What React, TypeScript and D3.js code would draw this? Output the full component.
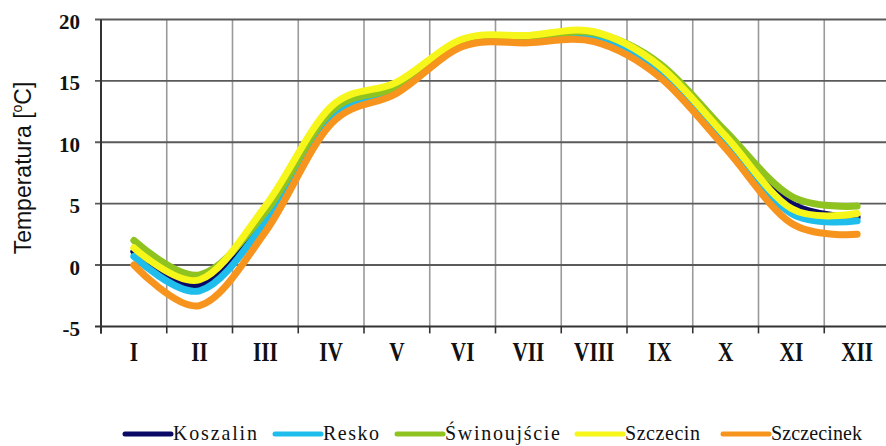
import React from 'react';
import * as d3 from 'd3';

const months = ['I', 'II', 'III', 'IV', 'V', 'VI', 'VII', 'VIII', 'IX', 'X', 'XI', 'XII'];
const koszalin = [1.1, -1.7, 3.6, 12.2, 14.3, 18.0, 18.4, 18.6, 15.9, 10.4, 5.0, 3.9];
const resko = [0.7, -2.1, 3.5, 12.1, 14.2, 18.0, 18.3, 18.5, 15.7, 10.0, 4.2, 3.6];
const swinoujscie = [2.0, -0.8, 4.3, 12.5, 14.5, 18.1, 18.5, 18.9, 16.4, 10.9, 5.6, 4.8];
const szczecin = [1.4, -1.2, 4.8, 12.9, 14.9, 18.4, 18.7, 19.0, 16.2, 10.5, 4.6, 4.2];
const szczecinek = [0.0, -3.3, 2.7, 11.5, 14.0, 17.8, 18.1, 18.2, 15.3, 9.5, 3.4, 2.5];
const seriesNames = ['Koszalin', 'Resko', 'Świnoujście', 'Szczecin', 'Szczecinek'];
const seriesValues = [koszalin, resko, swinoujscie, szczecin, szczecinek];
const seriesColors = ['#0a0a66', '#1ebdec', '#8fc31f', '#f6f61a', '#f7941d'];
const yTicks = [-5, 0, 5, 10, 15, 20];

const W = 886;
const H = 446;
const left = 101;
const step = 65.75;
const legendX = [125, 275, 397, 577, 723];
const legendW = [86, 58, 117, 77, 93];

export default function App() {
  const x = d3.scaleBand<string>().domain(months).range([left, left + step * 12]).padding(0);
  const y = d3.scaleLinear().domain([-5, 20]).range([326.4, 19.5]);
  const line = d3
    .line<number>()
    .x((_, i) => (x(months[i]) as number) + x.bandwidth() / 2)
    .y((d) => y(d))
    .curve(d3.curveCatmullRom.alpha(0));
  const bounds = d3.range(13).map((k) => left + k * x.bandwidth());
  const serif = '"Liberation Serif", "Times New Roman", serif';
  return (
    <svg width={W} height={H} style={{ position: 'absolute', left: 0, top: 0, background: '#fff' }}>
      <rect x={0} y={0} width={W} height={H} fill="#fff" />
      {bounds.slice(1).map((bx, i) => (
        <line key={'vg' + i} x1={bx} x2={bx} y1={y(20)} y2={y(-5)} stroke="#9a9a9a" strokeWidth={1.6} />
      ))}
      {yTicks.map((t) => (
        <line key={'hg' + t} x1={left - 6} x2={W} y1={y(t)} y2={y(t)} stroke={t === -5 ? '#333' : '#5a5a5a'} strokeWidth={t === -5 ? 2 : 1.8} />
      ))}
      <line x1={left} x2={left} y1={y(20)} y2={y(-5) + 7} stroke="#333" strokeWidth={2} />
      {bounds.map((bx, i) => (
        <line key={'xt' + i} x1={bx} x2={bx} y1={y(-5)} y2={y(-5) + 7} stroke="#333" strokeWidth={1.6} />
      ))}
      {yTicks.map((t) => (
        <text key={'yl' + t} x={80} y={y(t) + 9.5} textAnchor="end" fontFamily={serif} fontWeight="bold" fontSize={21} fill="#111">
          {t}
        </text>
      ))}
      {months.map((m) => {
        const cx = (x(m) as number) + x.bandwidth() / 2;
        return (
          <text key={'xl' + m} transform={`translate(${cx},361) scale(0.85,1.05)`} textAnchor="middle" fontFamily={serif} fontWeight="bold" fontSize={25} fill="#111">
            {m}
          </text>
        );
      })}
      <text transform="translate(31,168) rotate(-90)" textAnchor="middle" fontFamily='"Liberation Sans", Arial, sans-serif' fontSize={23} fill="#111">
        Temperatura [<tspan fontSize={14} dy={-9}>o</tspan><tspan dy={9}>C]</tspan>
      </text>
      {seriesValues.map((vals, i) => (
        <path key={'s' + i} d={line(vals) || ''} fill="none" stroke={seriesColors[i]} strokeWidth={7} strokeLinecap="round" strokeLinejoin="round" />
      ))}
      {seriesNames.map((n, i) => (
        <g key={'lg' + i}>
          <line x1={legendX[i]} x2={legendX[i] + 46} y1={434} y2={434} stroke={seriesColors[i]} strokeWidth={5} strokeLinecap="round" />
          <text transform={`translate(${legendX[i] + 48},440) scale(1,1.1)`} fontFamily={serif} fontSize={20} fill="#111" textLength={legendW[i] - 2} lengthAdjust="spacing">
            {n}
          </text>
        </g>
      ))}
    </svg>
  );
}
